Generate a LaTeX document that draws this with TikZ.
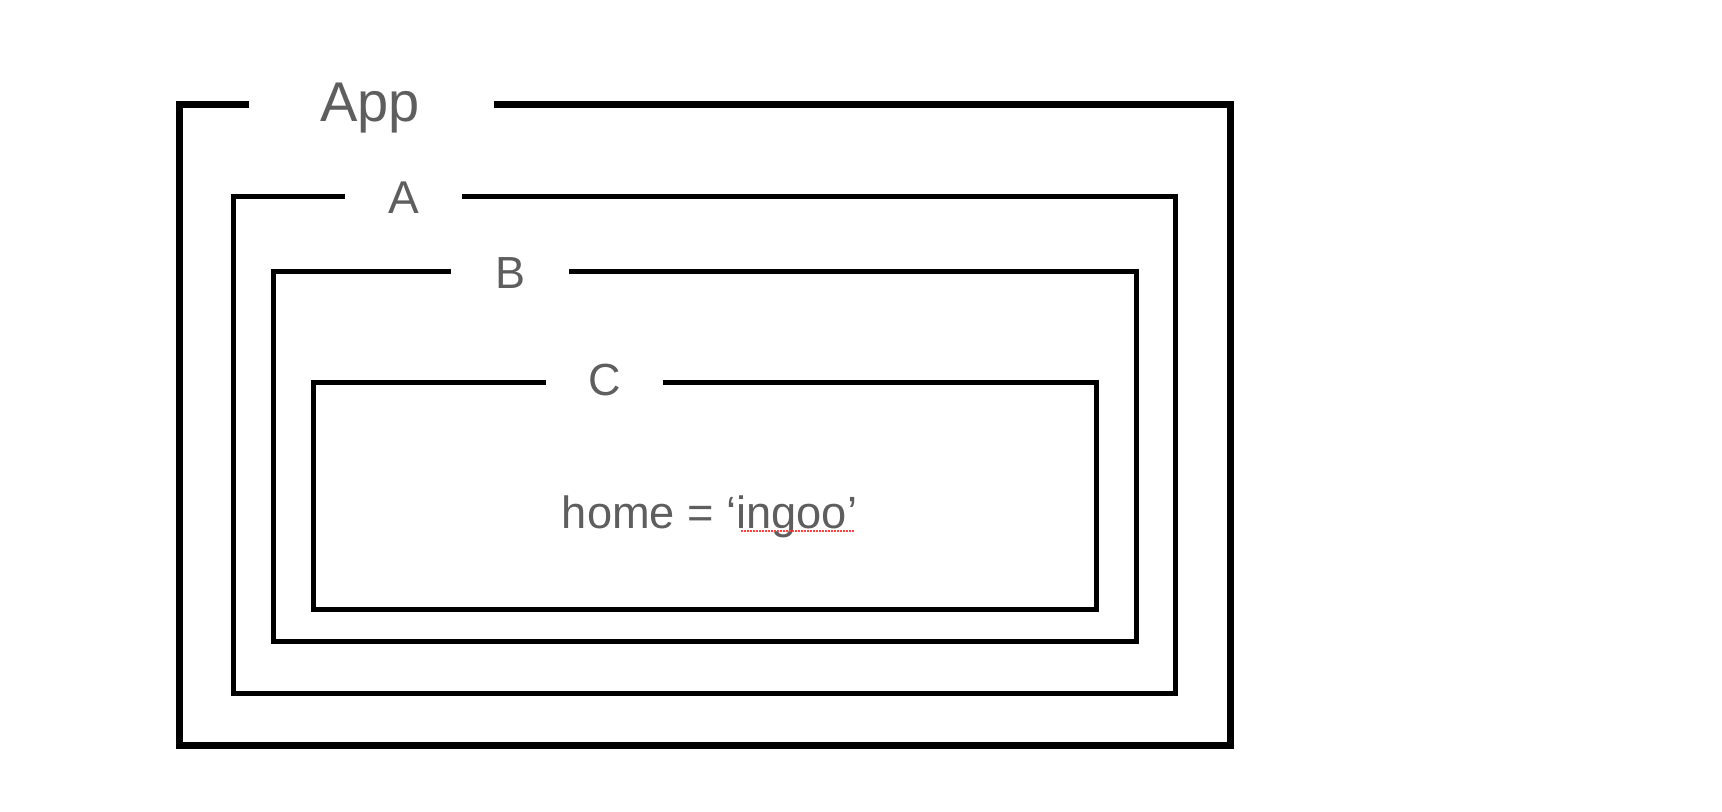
\documentclass[tikz,border=0pt]{standalone}
\usepackage{fontspec}
\setmainfont{Liberation Sans}
\definecolor{labelgray}{HTML}{5E5E5E}
\begin{document}
\begin{tikzpicture}[
  x=0.5pt, y=-0.5pt,
  line join=miter,
  frame/.style={line width=2.5pt, black},
  outerframe/.style={line width=3.5pt, black},
  lbl/.style={anchor=base, inner sep=0pt, text=labelgray}
]
  \useasboundingbox (0,0) rectangle (1722,812);

  % App
  \draw[outerframe]
    (249,104.5) -- (179.5,104.5) -- (179.5,745.7)
    -- (1230,745.7) -- (1230,104.5) -- (494,104.5);
  \node[lbl, font=\fontsize{28pt}{32pt}\selectfont] (app) at (370,121.7) {App};

  % A
  \draw[frame]
    (345,196.5) -- (233.5,196.5) -- (233.5,693.5)
    -- (1175.3,693.5) -- (1175.3,196.5) -- (461.7,196.5);
  \node[lbl, font=\fontsize{23pt}{27pt}\selectfont] (a) at (403.5,214) {A};

  % B
  \draw[frame]
    (450.7,271.5) -- (273.5,271.5) -- (273.5,641.3)
    -- (1136.3,641.3) -- (1136.3,271.5) -- (569,271.5);
  \node[lbl, font=\fontsize{22.5pt}{26pt}\selectfont] (b) at (510,289) {B};

  % C
  \draw[frame]
    (545.7,382.5) -- (313.5,382.5) -- (313.5,609.5)
    -- (1096.5,609.5) -- (1096.5,382.5) -- (663.3,382.5);
  \node[lbl, font=\fontsize{22.5pt}{26pt}\selectfont] (c) at (604.5,395.7) {C};

  % state in C
  \node[lbl, font=\fontsize{22.6pt}{26pt}\selectfont] (home) at (709.5,528.3)
    {home = ‘ingoo’};
  \draw[red!75, line width=0.75pt, dash pattern=on 0.75pt off 0.75pt]
    (741,531) -- (854,531);
\end{tikzpicture}
\end{document}
